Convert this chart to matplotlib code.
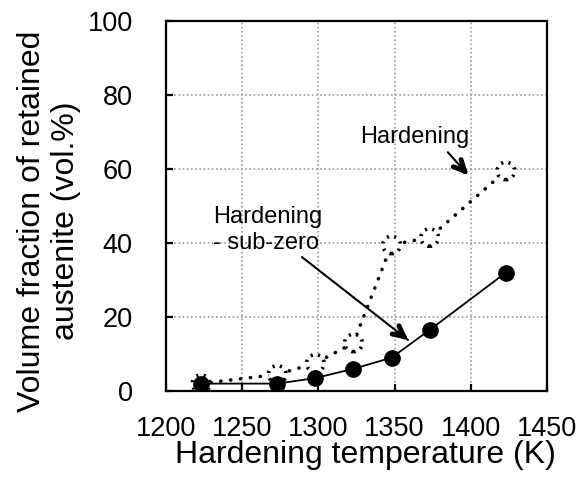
import matplotlib
matplotlib.use("Agg")
import matplotlib.pyplot as plt

plt.rcParams['font.family'] = ['Liberation Sans', 'DejaVu Sans']

temps = [1223, 1273, 1298, 1323, 1348, 1373, 1423]
hardening = [2, 4.5, 7.5, 13, 39.5, 41.5, 59.5]
subzero = [2, 2, 3.5, 6, 9, 16.5, 32]
xticks = [1200, 1250, 1300, 1350, 1400, 1450]
yticks = [0, 20, 40, 60, 80, 100]

fig = plt.figure(figsize=(5.85, 4.91), dpi=100)
ax = fig.add_axes([166/585, 1-391/491, 381/585, 370/491])

ax.set_xlim(1200, 1450)
ax.set_ylim(0, 100)
ax.set_xticks(xticks)
ax.set_yticks(yticks)
ax.grid(True, color='#999999', linestyle=(0, (1, 1.5)), linewidth=1.2)
ax.set_axisbelow(True)

# hardening dotted series
ax.plot(temps, hardening, color='black', linewidth=2.6,
        linestyle=(0, (0.05, 2.7)), dash_capstyle='round', zorder=3)
ax.scatter(temps, hardening, s=160, facecolors='white', edgecolors='black',
           linewidths=2.6, linestyles=(0, (0.6, 1.5)), zorder=4)

# hardening - sub-zero series
ax.plot(temps, subzero, color='black', linewidth=1.3, marker='o',
        markersize=11, markerfacecolor='black', zorder=5)

for sp in ax.spines.values():
    sp.set_linewidth(1.6)

ax.tick_params(axis='both', direction='in', length=5, width=1.6, labelsize=19.5)
ax.tick_params(axis='y', pad=24)
ax.tick_params(axis='x', pad=18)

# annotations
ax.text(1363.5, 68.6, 'Hardening', fontsize=17, ha='center', va='center')
ax.annotate('', xy=(1398.2, 58.4), xytext=(1383.7, 65.1),
            arrowprops=dict(arrowstyle='-', lw=1.5, color='black'))
ax.annotate('', xy=(1398.2, 58.4), xytext=(1395.5, 59.6),
            arrowprops=dict(arrowstyle='->,head_length=0.75,head_width=0.38',
                            lw=3.6, color='black', shrinkA=0, shrinkB=0))

ax.text(1230.8, 43.5, 'Hardening\n- sub-zero', fontsize=17, ha='left',
        va='center', linespacing=1.25)
ax.annotate('', xy=(1358.8, 13.8), xytext=(1289.2, 36.2),
            arrowprops=dict(arrowstyle='-', lw=1.5, color='black',
                            shrinkA=0, shrinkB=0))
ax.annotate('', xy=(1358.8, 13.8), xytext=(1355.5, 14.9),
            arrowprops=dict(arrowstyle='->,head_length=0.75,head_width=0.38',
                            lw=3.6, color='black', shrinkA=0, shrinkB=0))

fig.text(365/585, 1-455/491, 'Hardening temperature (K)', fontsize=23,
         ha='center', va='center')
fig.text(49/585, 1-221/491, 'Volume fraction of retained\naustenite (vol.%)',
         fontsize=23, ha='center', va='center', rotation=90,
         multialignment='center', linespacing=1.15)

fig.savefig('out.png', dpi=100)
